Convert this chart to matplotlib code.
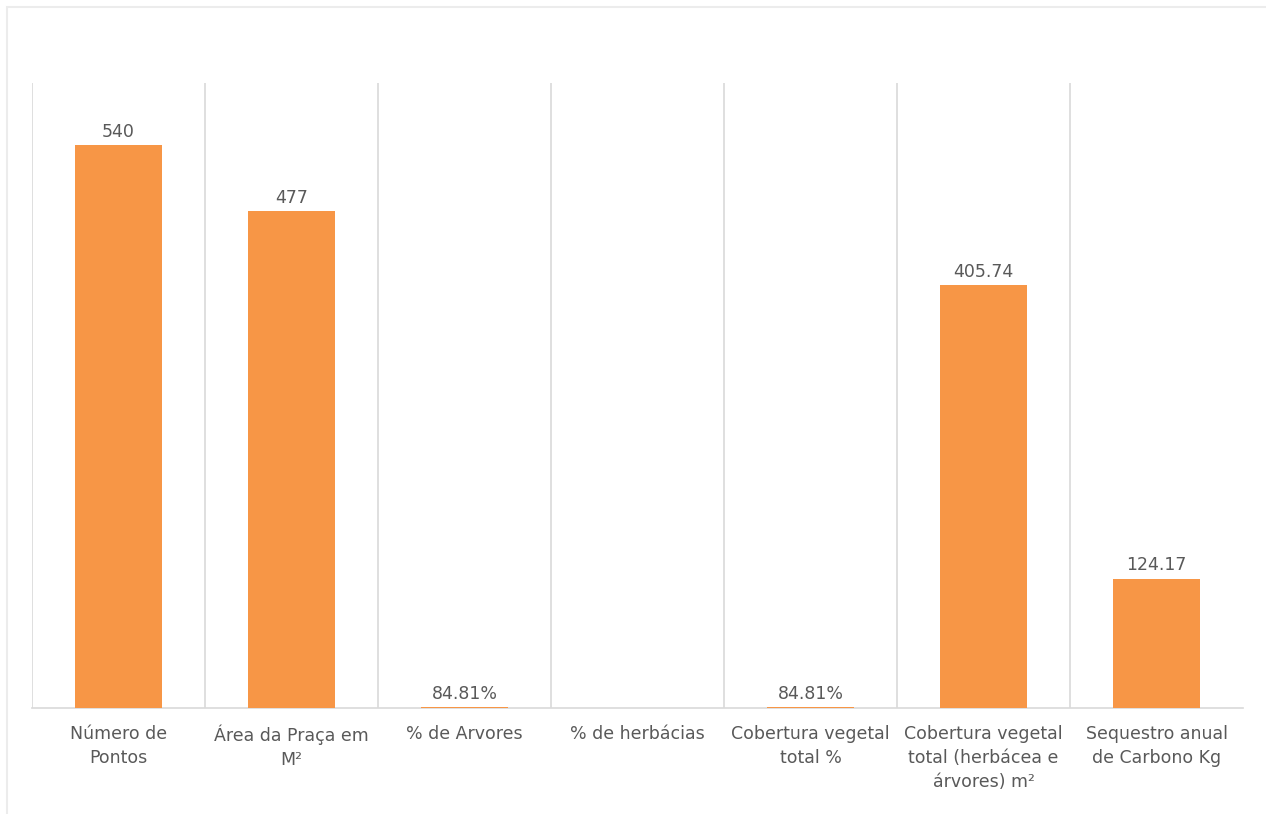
import matplotlib.pyplot as plt
from matplotlib.patches import Rectangle
import numpy as np

# Indicadores da praça
categorias = [
    "Número de\nPontos",
    "Área da Praça em\nM²",
    "% de Arvores",
    "% de herbácias",
    "Cobertura vegetal\ntotal %",
    "Cobertura vegetal\ntotal (herbácea e\nárvores) m²",
    "Sequestro anual\nde Carbono Kg",
]
valores = [540, 477, 0.8481, 0, 0.8481, 405.74, 124.17]
rotulos = ["540", "477", "84.81%", "", "84.81%", "405.74", "124.17"]

plt.rcParams['font.family'] = ['DejaVu Sans']

fig = plt.figure(figsize=(12.66, 8.14), dpi=100)
ax = fig.add_axes([32 / 1266, 1 - 708 / 814, (1243 - 32) / 1266, (708 - 83) / 814])

# moldura clara em volta do gráfico
fig.patches.append(Rectangle((7 / 1266, -0.01), 1.2, 1 - 7 / 814 + 0.01,
                             transform=fig.transFigure, fill=False,
                             edgecolor='#ececec', linewidth=1.5))

x = np.arange(len(categorias))
bars = ax.bar(x, valores, width=0.5, color='#f79646', zorder=3)

ax.set_xlim(-0.5, len(categorias) - 0.5)
ax.set_ylim(0, 600)

# linhas verticais separando as categorias
for xi in x:
    ax.axvline(xi - 0.5, color='#d9d9d9', linewidth=1.2, zorder=1)

for b, txt in zip(bars, rotulos):
    ax.annotate(txt, (b.get_x() + b.get_width() / 2, b.get_height()),
                xytext=(0, 3), textcoords='offset points',
                ha='center', va='bottom', fontsize=12.5, color='#595959')

for s in ['top', 'right', 'left']:
    ax.spines[s].set_visible(False)
ax.spines['bottom'].set_color('#d9d9d9')
ax.spines['bottom'].set_linewidth(1.2)

ax.set_yticks([])
ax.set_xticks(x)
ax.set_xticklabels(categorias, fontsize=12.5, color='#595959', linespacing=1.45)
ax.tick_params(axis='x', length=0, pad=12)

fig.savefig('out.png', dpi=100)
